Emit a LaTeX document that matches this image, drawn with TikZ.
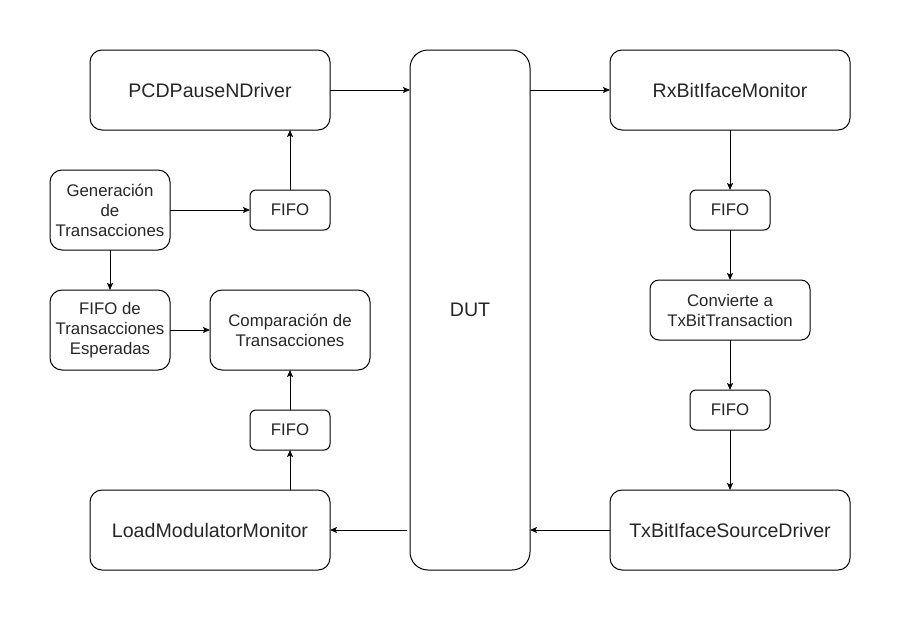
\documentclass[tikz,border=0pt]{standalone}
\usepackage{fontspec}
\setmainfont{Liberation Sans}
\usetikzlibrary{arrows.meta}
\tikzset{
  base/.style={draw, line width=1pt, inner sep=0pt, outer sep=0pt, align=center,
    text=black!85, font=\fontsize{16.8}{20}\selectfont},
  bigblk/.style={base, minimum width=240pt, minimum height=80pt, rounded corners=12pt,
    font=\fontsize{19.6}{23}\selectfont},
  midblk/.style={base, minimum width=120pt, minimum height=80pt, rounded corners=12pt},
  wideblk/.style={base, minimum width=160pt, minimum height=#1, rounded corners=9pt},
  fifo/.style={base, minimum width=80pt, minimum height=40pt, rounded corners=6pt},
  arr/.style={-{Stealth[length=7pt,width=6pt,inset=1.5pt]}, line width=1pt}
}
\begin{document}
\begin{tikzpicture}[x=1pt, y=-1pt]
    \useasboundingbox (0,0) rectangle (902,622);
    % left side
    \node[bigblk] (pcd) at (210,90) {PCDPauseNDriver};
    \node[midblk] (gen) at (110,210) {Generación\\de\\Transacciones};
    \node[fifo] (fifoa) at (290,210) {FIFO};
    \node[midblk] (esp) at (110,330) {FIFO de\\Transacciones\\Esperadas};
    \node[wideblk=80pt, rounded corners=12pt] (comp) at (290,330) {Comparación de\\Transacciones};
    \node[fifo] (fifob) at (290,430) {FIFO};
    \node[bigblk] (load) at (210,530) {LoadModulatorMonitor};
    % device under test
    \node[base, minimum width=120pt, minimum height=520pt, rounded corners=18pt,
      font=\fontsize{19.6}{23}\selectfont] (dut) at (470,310) {DUT};
    % right side
    \node[bigblk] (rx) at (730,90) {RxBitIfaceMonitor};
    \node[fifo] (fifoc) at (730,210) {FIFO};
    \node[wideblk=60pt] (conv) at (730,310) {Convierte a\\TxBitTransaction};
    \node[fifo] (fifod) at (730,410) {FIFO};
    \node[bigblk] (tx) at (730,530) {TxBitIfaceSourceDriver};

    \draw[arr] (pcd.east) -- (pcd.east -| dut.west);
    \draw[arr] (rx.west -| dut.east) -- (rx.west);
    \draw[arr] (rx) -- (fifoc);
    \draw[arr] (fifoc) -- (conv);
    \draw[arr] (conv) -- (fifod);
    \draw[arr] (fifod) -- (tx);
    \draw[arr] (tx.west) -- (tx.west -| dut.east);
    \draw[arr, shorten <=3pt] (load.east -| dut.west) -- (load.east);
    \draw[arr] (load.north -| fifob) -- (fifob);
    \draw[arr] (fifob) -- (comp);
    \draw[arr] (gen) -- (fifoa);
    \draw[arr] (fifoa.north) -- (fifoa.north |- pcd.south);
    \draw[arr] (gen) -- (esp);
    \draw[arr] (esp) -- (comp);
\end{tikzpicture}
\end{document}
